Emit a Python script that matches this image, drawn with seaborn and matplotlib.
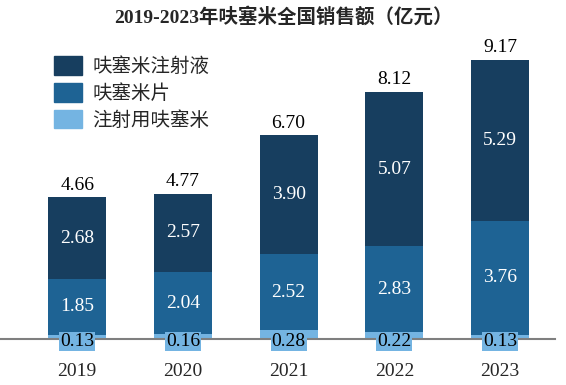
import numpy as np
import pandas as pd
import matplotlib
matplotlib.use('Agg')
import matplotlib.pyplot as plt
import seaborn as sns
from matplotlib.patches import Patch

years = ['2019', '2020', '2021', '2022', '2023']
inj_powder = [0.13, 0.16, 0.28, 0.22, 0.13]   # 注射用呋塞米
tablets = [1.85, 2.04, 2.52, 2.83, 3.76]      # 呋塞米片
injection = [2.68, 2.57, 3.90, 5.07, 5.29]    # 呋塞米注射液
totals = [4.66, 4.77, 6.70, 8.12, 9.17]

c_dark = '#173E5F'
c_mid = '#1E6394'
c_light = '#74B4E2'

sns.set_style('white')
plt.rcParams['font.family'] = ['Liberation Serif', 'Noto Sans CJK SC', 'DejaVu Sans']

df = pd.DataFrame({'year': years, 'a': inj_powder, 'b': tablets, 'c': injection})
df['ab'] = df['a'] + df['b']
df['abc'] = df['ab'] + df['c']

fig = plt.figure(figsize=(5.66, 3.85), dpi=100)
ax = fig.add_axes([0.0, 0.1195, 0.9806, 0.79])

# overlapping cumulative bars, back to front
for col, c in [('abc', c_dark), ('ab', c_mid), ('a', c_light)]:
    sns.barplot(data=df, x='year', y=col, color=c, width=0.55, saturation=1,
                linewidth=0, ax=ax)

for i in range(len(years)):
    ax.text(i, df['ab'][i] + injection[i] / 2, f'{injection[i]:.2f}', ha='center', va='center',
            color='white', fontsize=14)
    ax.text(i, inj_powder[i] + tablets[i] / 2, f'{tablets[i]:.2f}', ha='center', va='center',
            color='white', fontsize=14)
    ax.text(i, -0.08, f'{inj_powder[i]:.2f}', ha='center', va='center', color='black', fontsize=14,
            bbox=dict(boxstyle='square,pad=0.05', fc=c_light, ec='none'))
    ax.text(i, totals[i] + 0.12, f'{totals[i]:.2f}', ha='center', va='bottom', color='black',
            fontsize=14)

ax.set_xlim(-0.73, 4.52)
ax.set_ylim(0, 10)
ax.set_xlabel('')
ax.set_ylabel('')
ax.set_yticks([])
ax.tick_params(axis='x', length=0, labelsize=14, pad=17)
for s in ['top', 'right', 'left']:
    ax.spines[s].set_visible(False)
ax.spines['bottom'].set_color('#7f7f7f')
ax.spines['bottom'].set_linewidth(1.5)
ax.set_zorder(1)

handles = [Patch(color=c_dark, label='呋塞米注射液'),
           Patch(color=c_mid, label='呋塞米片'),
           Patch(color=c_light, label='注射用呋塞米')]
fig.legend(handles=handles, loc='upper left', bbox_to_anchor=(0.065, 0.9), frameon=False,
           prop={'family': 'Noto Sans CJK SC', 'size': 14}, handlelength=1.45, handleheight=1.1,
           labelspacing=0.3, handletextpad=0.5)

fig.text(0.5, 0.955, '2019-2023年呋塞米全国销售额（亿元）', ha='center', va='center',
         fontsize=14, fontweight='bold')

fig.savefig('out.png', dpi=100)
